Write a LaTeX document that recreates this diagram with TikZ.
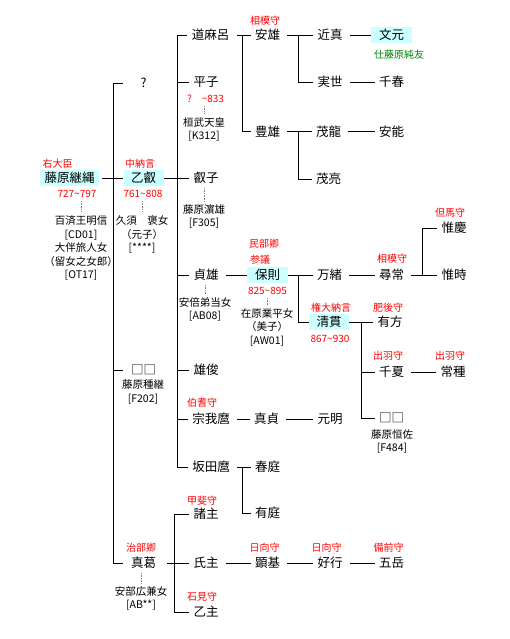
\documentclass[tikz,border=0pt]{standalone}
\usepackage{fontspec}
\setmainfont{Noto Sans CJK JP}
\definecolor{hlcyan}{HTML}{CCFFFF}
\definecolor{titlered}{HTML}{FF0000}
\definecolor{servgreen}{HTML}{008000}

\begin{document}
\begin{tikzpicture}[x=1pt,y=-1pt,line width=0.8pt,
  nm/.style={inner xsep=4pt,inner ysep=2pt,font=\fontsize{12.5}{15}\selectfont},
  hl/.style={nm,fill=hlcyan,minimum height=16pt},
  col/.style={nm,minimum width=40pt},
  ttl/.style={inner sep=1pt,text=titlered,font=\fontsize{10}{12}\selectfont},
  note/.style={inner sep=1pt,align=center,font=\fontsize{10.5}{13.5}\selectfont},
  link/.style={shorten <=3pt},
  wed/.style={densely dotted,gray,line width=0.6pt,shorten <=2pt,shorten >=2pt}]
  \useasboundingbox (0,0) rectangle (509,639);

  % buses
  \coordinate (busA) at (113,0);
  \coordinate (busB) at (177,0);
  \coordinate (busC) at (242,0);
  \coordinate (busD) at (298,0);
  \coordinate (busG) at (361,0);
  \coordinate (busH) at (422,0);
  \coordinate (busJ) at (174,0);

  % persons
  \node[hl,minimum width=59pt] (tsugu) at (69.5,178) {藤原継縄};
  \node[col] (unkq) at (143.5,83) {?};
  \node[hl,minimum width=40pt] (oto) at (143.5,178) {乙叡};
  \node[col] (unk1) at (143.5,370) {□□};
  \node[col] (masa) at (143.5,563) {真葛};
  \foreach \n/\x/\y/\t in {michi/210.5/35/道麻呂, hira/206/82/平子, eiko/206/178/叡子,
      sada/206/275/貞雄, yuushun/206/370/雄俊, soga/211/419/宗我麿, saka/211/467/坂田麿,
      moro/206/514/諸主, uji/206/563/氏主, oto2/206/612/乙主}
    \node[nm] (\n) at (\x,\y) {\t};
  \foreach \n/\x/\y/\t in {yasu/267.5/35/安雄, toyo/267.5/131.5/豊雄, sanesada/266.5/419/真貞,
      haru/267.5/467/春庭, ari/267.5/513/有庭, aki/267.5/563/顕基}
    \node[nm] (\n) at (\x,\y) {\t};
  \node[hl,minimum width=41pt] (yasunori) at (267.5,275) {保則};
  \foreach \n/\x/\y/\t in {chika/330/35/近真, sane/330/82/実世, shige/328.5/131.5/茂龍,
      shigesuke/328.5/179/茂亮, kazuo/329.5/275/万緒, moto/330/419/元明, yoshi/330/563/好行}
    \node[nm] (\n) at (\x,\y) {\t};
  \node[hl,minimum width=40pt] (kiyo) at (329,322) {清貫};
  \node[hl,minimum width=41pt] (fumi) at (391.5,35) {文元};
  \foreach \n/\x/\y/\t in {chiharu/391.5/82/千春, yasuyoshi/391.5/131.5/安能, hiro/391.5/275/尋常,
      arikata/390/322/有方, chinatsu/391.5/372/千夏, unk2/391.5/418/□□, gogaku/391.5/563/五岳,
      kore1/454/228/惟慶, kore2/454/275/惟時, tsune/453/372/常種}
    \node[nm] (\n) at (\x,\y) {\t};

  % offices
  \foreach \n/\x/\y/\t in {udai/57.5/164/右大臣, chunagon/140/164/中納言, sagami1/265/21/相模守,
      minbu/264/244/民部卿, sangi/260/260/参議, gon/331/308/権大納言, sagami2/392/259/相模守,
      tajima/450/213/但馬守, higo/388/308/肥後守, dewa1/388/356/出羽守, dewa2/450/356/出羽守,
      houki/202/403/伯耆守, kai/202/501/甲斐守, iwami/202/597/石見守, jibu/141/548/治部卿,
      hyuga1/264.5/548/日向守, hyuga2/326.5/548/日向守, bizen/388.5/548/備前守}
    \node[ttl] (t\n) at (\x,\y) {\t};
  \node[ttl,text=servgreen] (serve) at (399,55) {仕藤原純友};

  % years
  \node[ttl] (d1) at (77,194) {727\textasciitilde797};
  \node[ttl] (d2) at (143,194) {761\textasciitilde808};
  \node[ttl] (d3) at (205.5,99) {?\quad\textasciitilde833};
  \node[ttl] (d4) at (267.5,291) {825\textasciitilde895};
  \node[ttl] (d5) at (330,339) {867\textasciitilde930};

  % mothers
  \node[note] (n1) at (81,248) {百済王明信\\{[CD01]}\\大伴旅人女\\（留女之女郎）\\{[OT17]}};
  \node[note] (n2) at (142,234.5) {久須　褒女\\（元子）\\{[****]}};
  \node[note] (n3) at (204,129.5) {桓武天皇\\{[K312]}};
  \node[note] (n4) at (204,216.5) {藤原濵雄\\{[F305]}};
  \node[note] (n5) at (205,309.5) {安倍弟当女\\{[AB08]}};
  \node[note] (n6) at (267,327) {在原業平女\\（美子）\\{[AW01]}};
  \node[note] (n7) at (143,392) {藤原種継\\{[F202]}};
  \node[note] (n8) at (392,441.5) {藤原恒佐\\{[F484]}};
  \node[note] (n9) at (141,598.5) {安部広兼女\\{[AB**]}};

  \draw[wed] (n1.north |- d1.south) -- (n1.north);
  \draw[wed] (n2.north |- d2.south) -- (n2.north);
  \draw[wed] (n3.north |- d3.south) -- (n3.north);
  \draw[wed] (n4.north |- eiko.south) -- (n4.north);
  \draw[wed] (n5.north |- sada.south) -- (n5.north);
  \draw[wed] (n6.north |- d4.south) -- (n6.north);
  \draw[wed] (n9.north |- masa.south) -- (n9.north);

  % 藤原継縄
  \draw[link] (tsugu.east) -- (oto.west);
  \draw (busA |- unkq) -- (busA |- masa);
  \foreach \c in {unkq,unk1,masa} \draw (busA |- \c) -- (\c.west);
  % 乙叡
  \draw (oto.east) -- (eiko.west);
  \draw (busB |- michi) -- (busB |- saka);
  \foreach \c in {michi,hira,sada,yuushun,soga,saka} \draw (busB |- \c) -- (\c.west);
  % 道麻呂, 安雄, 豊雄
  \draw[link] (michi.east) -- (yasu.west);
  \draw (busC |- yasu) -- (busC |- toyo) -- (toyo.west);
  \draw[link] (yasu.east) -- (chika.west);
  \draw (busD |- chika) -- (busD |- sane) -- (sane.west);
  \draw[link] (toyo.east) -- (shige.west);
  \draw (busD |- shige) -- (busD |- shigesuke) -- (shigesuke.west);
  \draw[link] (chika.east) -- (fumi.west);
  \draw[link] (sane.east) -- (chiharu.west);
  \draw[link] (shige.east) -- (yasuyoshi.west);
  % 貞雄, 保則, 清貫
  \draw[link] (sada.east) -- (yasunori.west);
  \draw (yasunori.east) -- (kazuo.west);
  \draw (busD |- kazuo) -- (busD |- kiyo) -- (kiyo.west);
  \draw[link] (kazuo.east) -- (hiro.west);
  \draw[link] (hiro.east) -- (kore2.west);
  \draw (busH |- kore2) -- (busH |- kore1) -- (kore1.west);
  \draw (kiyo.east) -- (arikata.west);
  \draw (busG |- arikata) -- (busG |- unk2) -- (unk2.west);
  \draw (busG |- chinatsu) -- (chinatsu.west);
  \draw[link] (chinatsu.east) -- (tsune.west);
  % 宗我麿, 坂田麿
  \draw[link] (soga.east) -- (sanesada.west);
  \draw[link] (sanesada.east) -- (moto.west);
  \draw[link] (saka.east) -- (haru.west);
  \draw (busC |- haru) -- (busC |- ari) -- (ari.west);
  % 真葛
  \draw[link] (masa.east) -- (uji.west);
  \draw (busJ |- moro) -- (busJ |- oto2);
  \foreach \c in {moro,oto2} \draw (busJ |- \c) -- (\c.west);
  \draw[link] (uji.east) -- (aki.west);
  \draw[link] (aki.east) -- (yoshi.west);
  \draw[link] (yoshi.east) -- (gogaku.west);
\end{tikzpicture}
\end{document}
